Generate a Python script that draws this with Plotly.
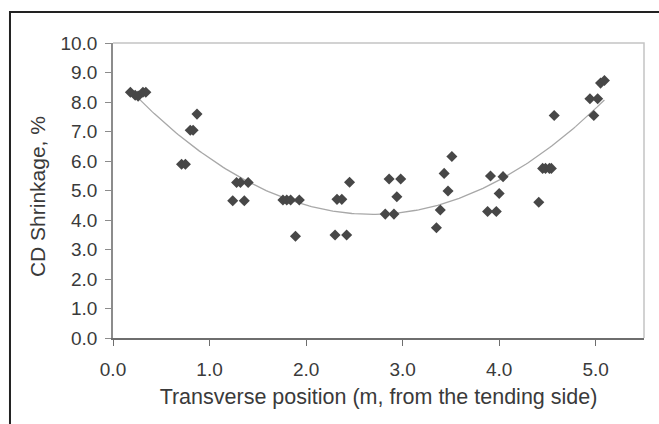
import numpy as np
import plotly.graph_objects as go

# Transverse position across the web (m, measured from the tending side)
position_m = [
    0.18, 0.23, 0.26, 0.31, 0.34,
    0.87, 0.80, 0.83, 0.71, 0.75,
    1.28, 1.32, 1.40, 1.24, 1.36,
    1.76, 1.80, 1.84, 1.93, 1.89,
    2.30, 2.42, 2.32, 2.37, 2.45,
    2.82, 2.91, 2.86, 2.98, 2.94,
    3.35, 3.39, 3.47, 3.43, 3.51,
    3.88, 3.97, 4.00, 3.91, 4.04,
    4.41, 4.45, 4.48, 4.52, 4.54,
    4.57, 4.98, 4.94, 5.02, 5.05, 5.09,
]

# Cross-direction shrinkage measured at each position (%)
shrinkage_pct = [
    8.33, 8.23, 8.20, 8.33, 8.33,
    7.59, 7.04, 7.04, 5.89, 5.89,
    5.27, 5.27, 5.27, 4.65, 4.65,
    4.68, 4.68, 4.68, 4.68, 3.45,
    3.49, 3.49, 4.70, 4.70, 5.28,
    4.20, 4.20, 5.39, 5.39, 4.79,
    3.74, 4.34, 4.98, 5.58, 6.15,
    4.29, 4.29, 4.90, 5.49, 5.47,
    4.60, 5.75, 5.75, 5.75, 5.75,
    7.54, 7.54, 8.11, 8.11, 8.64, 8.73,
]

x_ticks = [0, 1, 2, 3, 4, 5]
y_ticks = list(range(0, 11))

# Second-order polynomial trend through the measurements
coef = np.polyfit(position_m, shrinkage_pct, 2)
x_fit = np.linspace(min(position_m), max(position_m), 200)
y_fit = np.polyval(coef, x_fit)

text_color = "#3a3a3a"
font_family = "Liberation Sans, Arial, sans-serif"

fig = go.Figure()
fig.add_trace(go.Scatter(
    x=x_fit, y=y_fit, mode="lines",
    line=dict(color="#a8a8a8", width=1.3),
    hoverinfo="skip", showlegend=False,
))
fig.add_trace(go.Scatter(
    x=position_m, y=shrinkage_pct, mode="markers",
    marker=dict(symbol="diamond", size=8.5, color="#474747", line=dict(width=0)),
    showlegend=False,
))

fig.update_layout(
    width=659, height=424,
    margin=dict(l=113, r=15, t=43, b=86),
    paper_bgcolor="white", plot_bgcolor="white",
    font=dict(family=font_family, color=text_color),
    xaxis=dict(
        range=[0, 5.5], tickvals=x_ticks, tickformat=".1f",
        showgrid=False, zeroline=False,
        showline=True, linecolor="#6e6e6e", linewidth=1.5,
        ticks="outside", ticklen=6, tickcolor="#6e6e6e", tickwidth=1.2,
        tickfont=dict(size=19, color=text_color),
        ticklabelstandoff=7,
        title=dict(text="Transverse position (m, from the tending side)",
                   font=dict(size=21.5, color=text_color), standoff=10),
    ),
    yaxis=dict(
        range=[0, 10], tickvals=y_ticks, tickformat=".1f",
        showgrid=False, zeroline=False,
        showline=True, linecolor="#8c8c8c", linewidth=1.5,
        ticks="outside", ticklen=6, tickcolor="#8c8c8c", tickwidth=1.2,
        tickfont=dict(size=19, color=text_color),
        ticklabelstandoff=4,
    ),
    annotations=[
        dict(text="CD Shrinkage, %", textangle=-90,
             xref="paper", yref="paper", x=-0.141, y=0.478,
             xanchor="center", yanchor="middle", showarrow=False,
             font=dict(size=21, color=text_color)),
    ],
    shapes=[
        # light frame on the top and right of the plotting area
        dict(type="path", xref="paper", yref="paper",
             path="M 0,1 L 1,1 L 1,0",
             line=dict(color="#c4c4c4", width=1.5)),
        # outer chart border
        dict(type="path", xref="paper", yref="paper",
             path="M -0.194,-0.4 L -0.194,1.105 L 1.1,1.105",
             line=dict(color="#222222", width=2)),
    ],
)

fig.write_html("out.html")
